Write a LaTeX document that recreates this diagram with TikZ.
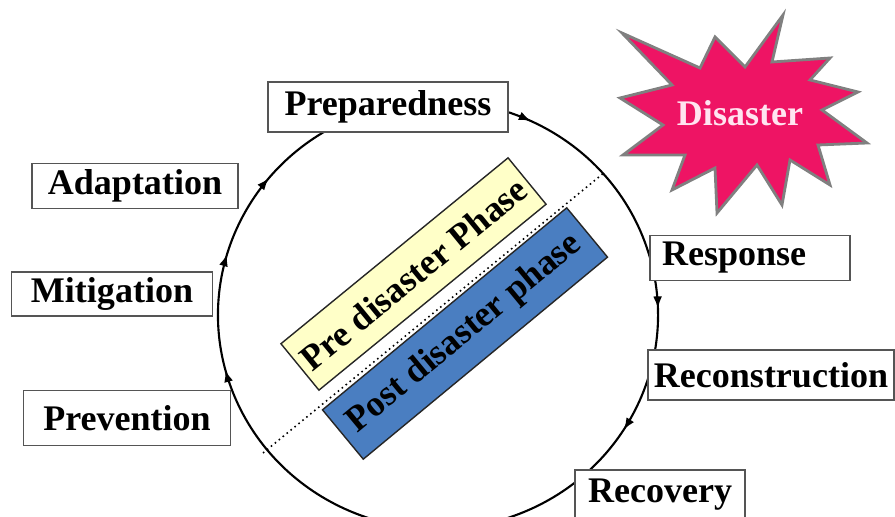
\documentclass[tikz,border=0pt]{standalone}
\usepackage{fontspec}
\setmainfont{Liberation Serif}
\usetikzlibrary{arrows.meta,decorations.markings}
\definecolor{boxgray}{RGB}{85,85,85}
\definecolor{preyellow}{RGB}{255,255,200}
\definecolor{postblue}{RGB}{74,126,193}
\definecolor{blastpink}{RGB}{238,20,100}
\definecolor{blastgray}{RGB}{128,128,128}

\begin{document}
\begin{tikzpicture}[
    stage/.style={draw=boxgray, fill=white, line width=1.1pt, minimum height=0.9cm,
      font=\bfseries\fontsize{20.5}{24}\selectfont},
    phase/.style={draw=black!85, line width=0.8pt, rotate=39.3, inner sep=0pt,
      font=\bfseries\fontsize{20.5}{24}\selectfont},
    cycle/.style={line width=1.2pt, postaction={decorate}, decoration={markings,
      mark=at position 0.014 with {\arrow{Latex[length=2.4mm,width=1.8mm]}},
      mark=at position 0.100 with {\arrow{Latex[length=2.4mm,width=1.8mm]}},
      mark=at position 0.164 with {\arrow{Latex[length=2.4mm,width=1.8mm]}},
      mark=at position 0.375 with {\arrow{Latex[length=2.4mm,width=1.8mm]}},
      mark=at position 0.550 with {\arrow{Latex[length=2.4mm,width=1.8mm]}},
      mark=at position 0.644 with {\arrow{Latex[length=2.4mm,width=1.8mm]}}}}
  ]
  \useasboundingbox (0,0) rectangle (17.9,10.34);

  % the cycle
  \coordinate (O) at (8.76,4.04);
  \draw[cycle] (O) ++(200:4.4 and 4.28)
    arc[start angle=200, end angle=-160, x radius=4.4cm, y radius=4.28cm];

  % split between the two phases
  \coordinate (cutA) at (5.26,1.28);
  \coordinate (cutB) at (12.1,6.9);
  \draw[dotted, line width=0.9pt] (cutA) -- (cutB);
  \node[phase, fill=preyellow, minimum width=5.87cm, minimum height=1.2cm]
    (pre) at (8.27,4.86) {Pre disaster Phase};
  \node[phase, fill=postblue, minimum width=6.34cm, minimum height=1.28cm, rotate=0.3]
    (post) at (9.3,3.67) {Post disaster phase};

  % stages round the cycle
  \node[stage, minimum width=4.8cm, minimum height=1.0cm] (prep) at (7.76,8.2) {Preparedness};
  \node[stage, minimum width=4.12cm] (adapt) at (2.7,6.62) {Adaptation};
  \node[stage, minimum width=4.02cm, minimum height=0.86cm] (mitig) at (2.24,4.46) {Mitigation};
  \node[stage, minimum width=4.14cm, minimum height=1.1cm] (prev) at (2.54,1.98) {Prevention};
  \node[stage, text width=3.52cm, align=left, inner xsep=0.24cm] (resp) at (15.0,5.18) {Response};
  \node[stage, minimum width=4.92cm, minimum height=1.0cm] (recon) at (15.42,2.84) {Reconstruction};
  \node[stage, minimum width=3.4cm, minimum height=1.0cm] (recov) at (13.2,0.44) {Recovery};

  % the disaster burst
  \draw[fill=blastpink, draw=blastgray, line width=1.6pt, line join=miter]
    (15.66,10.04) -- (15.44,9.1) -- (16.6,9.18) -- (16.2,8.74) -- (17.16,8.5) -- (16.44,8.14)
    -- (17.34,7.48) -- (16.36,7.44) -- (16.6,6.64) -- (15.8,7.14) -- (15.64,6.24) -- (15.14,7.04)
    -- (14.34,6.08) -- (14.3,6.98) -- (13.44,6.54) -- (13.7,7.24) -- (12.46,7.24) -- (13.26,7.84)
    -- (12.4,8.38) -- (13.44,8.64) -- (12.44,9.68) -- (14.0,8.98) -- (14.3,9.6) -- (14.9,9.0) -- cycle;
  \node[text={rgb,255:red,255;green,228;blue,240}, font=\bfseries\fontsize{20.5}{24}\selectfont]
    (disaster) at (14.8,8.08) {Disaster};
\end{tikzpicture}
\end{document}
